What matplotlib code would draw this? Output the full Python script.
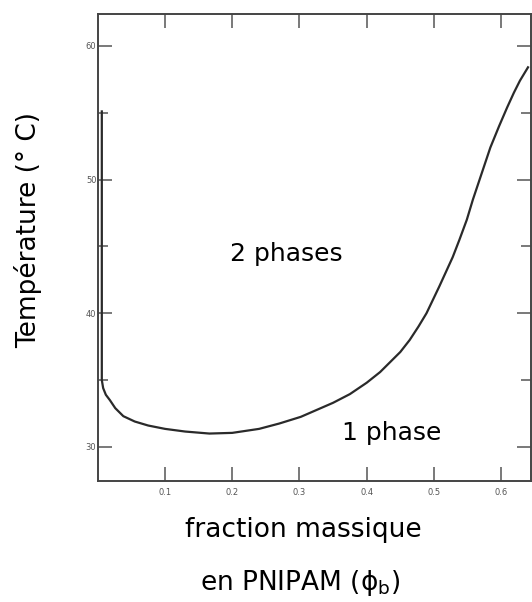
import matplotlib.pyplot as plt
from matplotlib.ticker import MultipleLocator

# coexistence curve (mass fraction, temperature in C)
phi = [0.006, 0.006, 0.008, 0.012, 0.018, 0.026, 0.038, 0.055, 0.075, 0.10,
       0.13, 0.166, 0.20, 0.24, 0.27, 0.302, 0.35, 0.375, 0.40, 0.42,
       0.434, 0.45, 0.464, 0.477, 0.489, 0.508, 0.518, 0.528, 0.538,
       0.549, 0.558, 0.57, 0.584, 0.597, 0.609, 0.619, 0.628, 0.640]
temp = [55.1, 35.0, 34.4, 33.9, 33.5, 32.9, 32.3, 31.9, 31.6, 31.35,
        31.15, 31.0, 31.05, 31.35, 31.75, 32.25, 33.3, 33.95, 34.8, 35.6,
        36.3, 37.1, 38.0, 39.0, 40.0, 42.0, 43.1, 44.2, 45.5,
        47.0, 48.5, 50.3, 52.4, 54.0, 55.4, 56.5, 57.4, 58.4]

x_ticks = [0.1, 0.2, 0.3, 0.4, 0.5, 0.6]
x_labels = ["0.1", "0.2", "0.3", "0.4", "0.5", "0.6"]
y_ticks = [30, 40, 50, 60]
y_labels = ["30", "40", "50", "60"]

fig = plt.figure(figsize=(5.32, 6.02), dpi=100)
ax = fig.add_axes([0.1838, 0.201, 0.815, 0.776])

ax.plot(phi, temp, color="#2a2a2a", lw=1.6, solid_joinstyle="round")

ax.set_xlim(0, 0.645)
ax.set_ylim(27.45, 62.4)

ax.set_xticks(x_ticks)
ax.set_xticklabels(x_labels)
ax.set_yticks(y_ticks)
ax.set_yticklabels(y_labels)
ax.yaxis.set_minor_locator(MultipleLocator(5))

ax.tick_params(which="both", direction="in", top=True, right=True,
               colors="#555555", labelsize=6, width=1.1)
ax.tick_params(which="major", length=10)
ax.tick_params(which="minor", length=7)
ax.tick_params(axis="y", pad=1)
ax.tick_params(axis="x", pad=5)
for s in ax.spines.values():
    s.set_color("#444444")
    s.set_linewidth(1.4)

ax.text(0.28, 44.4, "2 phases", fontsize=18, ha="center", va="center")
ax.text(0.437, 31.05, "1 phase", fontsize=18, ha="center", va="center")

fig.text(0.053, 0.618, "Température (° C)", fontsize=19, rotation=90,
         ha="center", va="center")
fig.text(0.571, 0.120, "fraction massique", fontsize=19, ha="center", va="center")
fig.text(0.565, 0.032, r"en PNIPAM ($\mathrm{ϕ}_\mathrm{b}$)", fontsize=19,
         ha="center", va="center")

fig.savefig("out.png", dpi=100)
